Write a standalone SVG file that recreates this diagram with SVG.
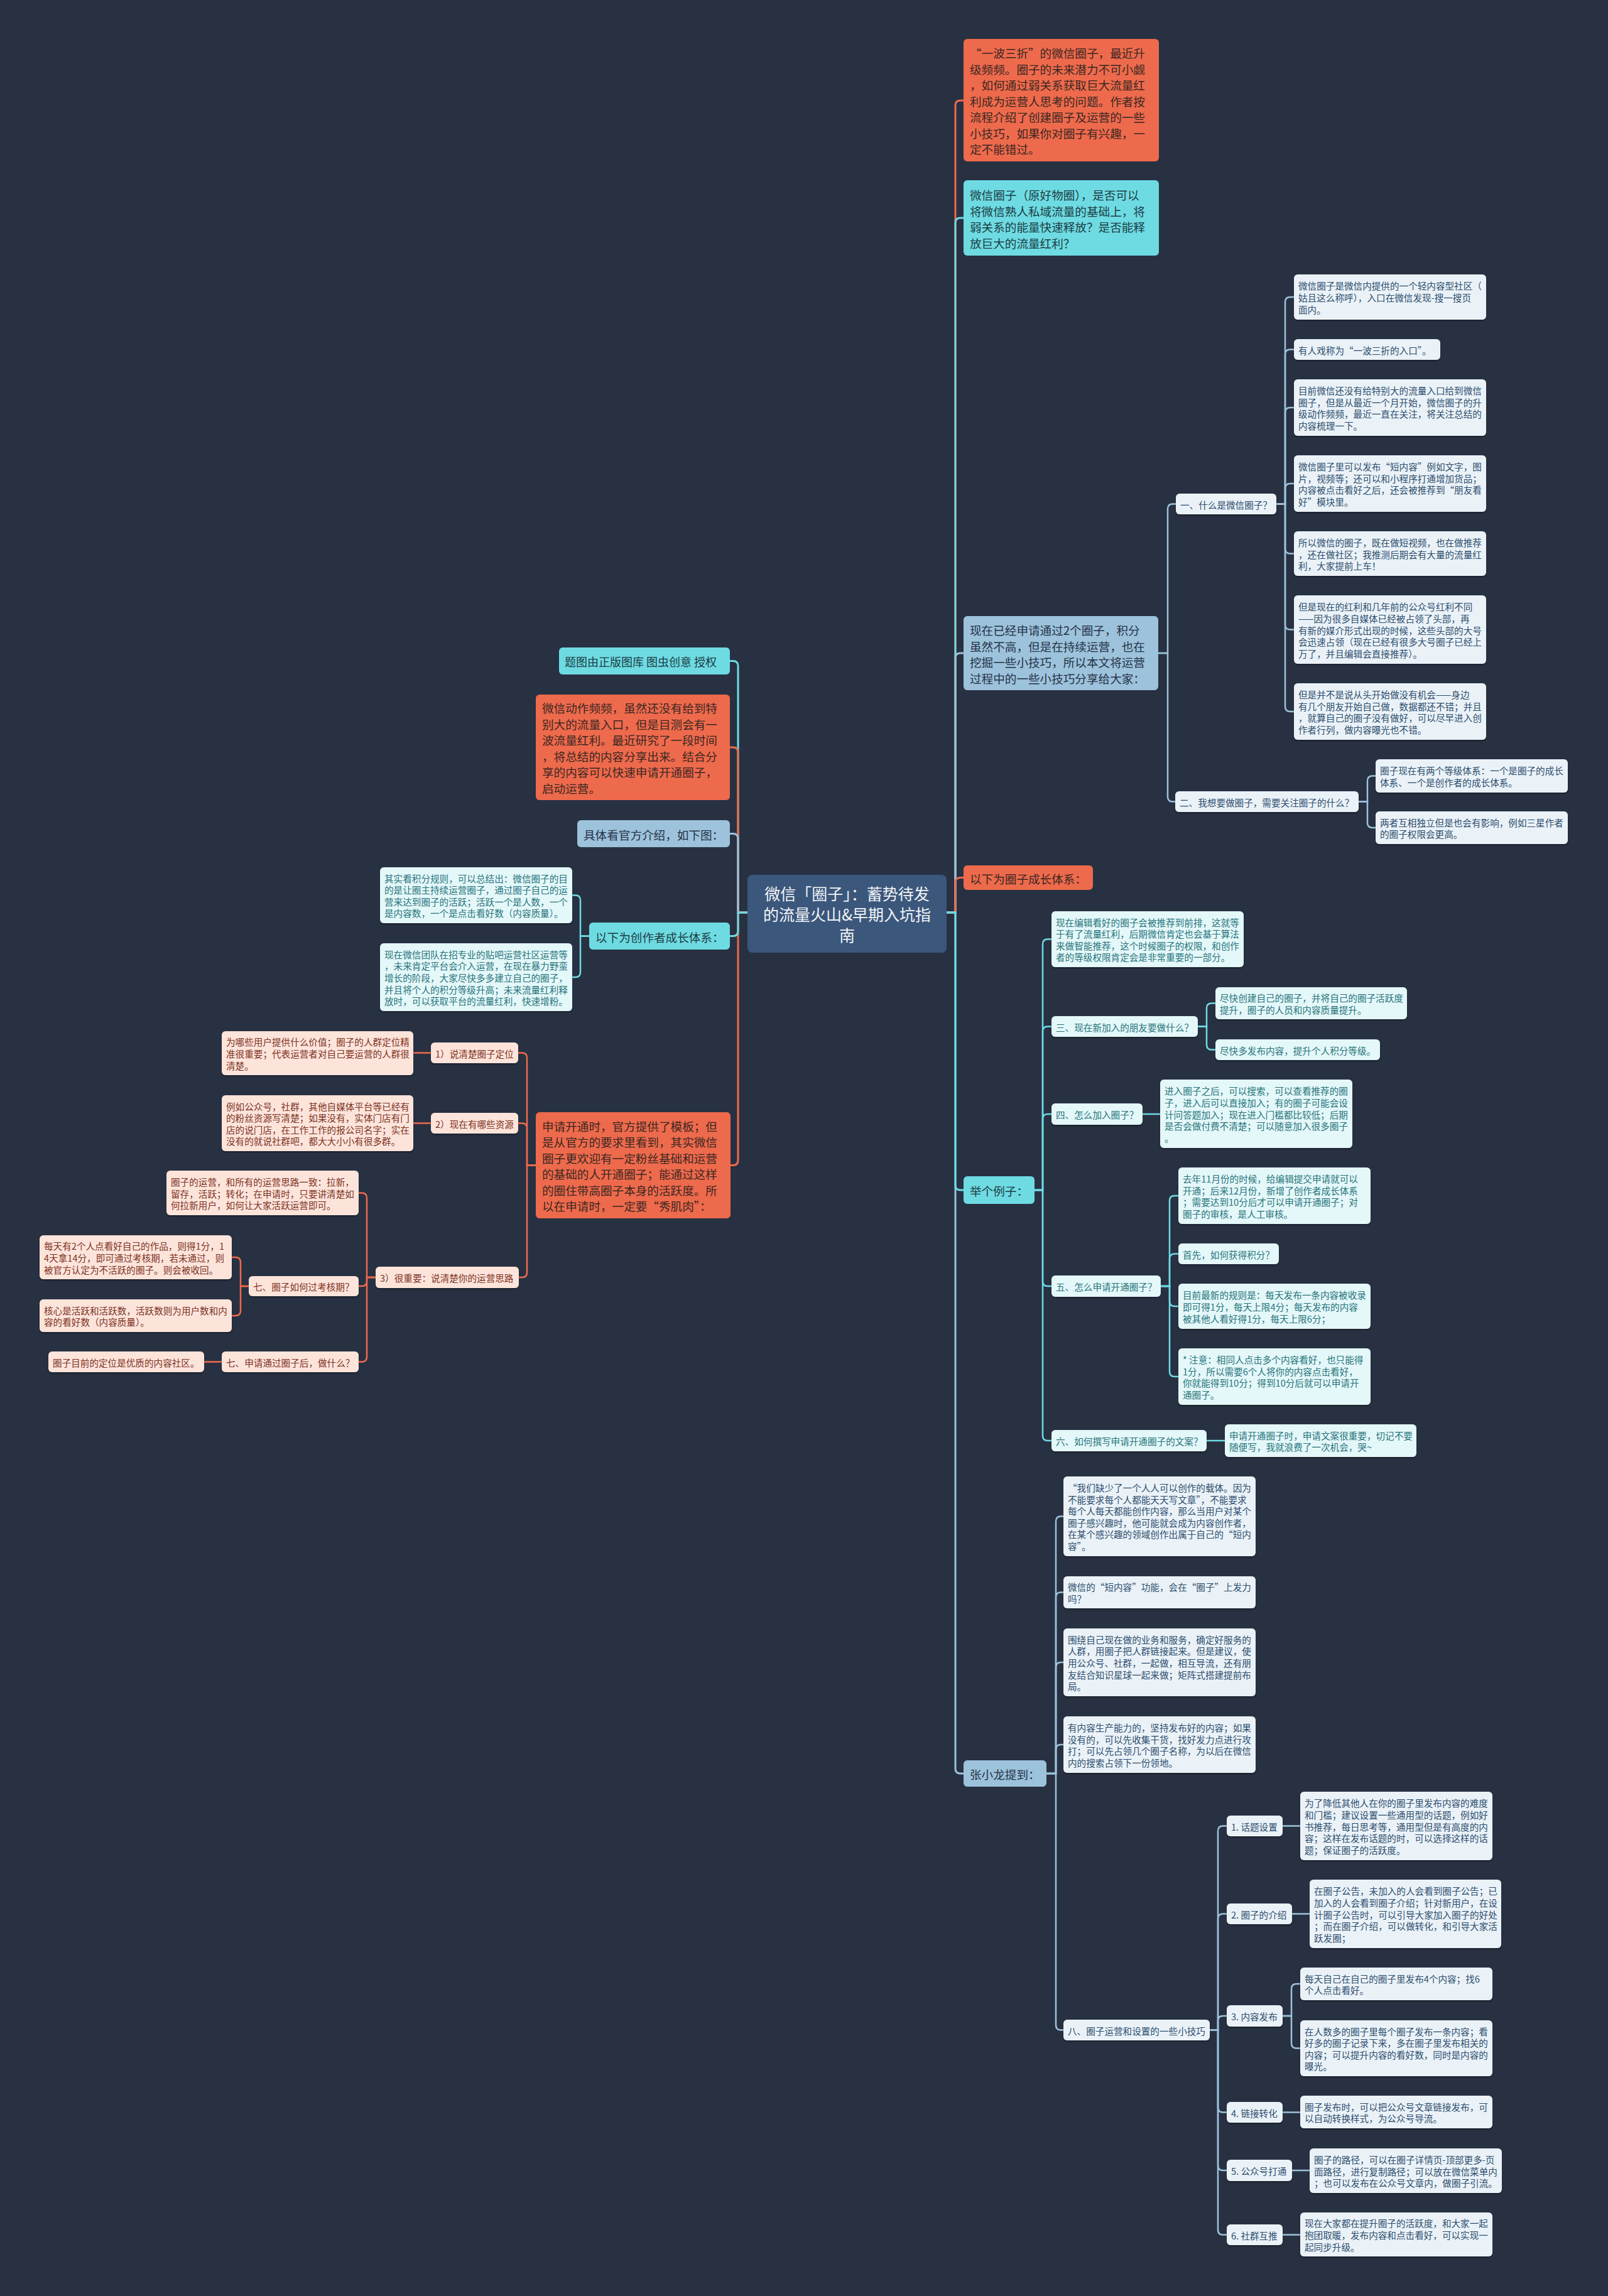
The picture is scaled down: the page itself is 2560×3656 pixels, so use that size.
<svg xmlns="http://www.w3.org/2000/svg" width="2560" height="3656" viewBox="0 0 2560 3656">
<defs>
<style>
text{font-family:"Noto Sans CJK SC","Noto Sans",sans-serif;dominant-baseline:central}
.tb{font-size:18.6px}.ts{font-size:14.6px}.tm{font-size:25px}
.no{fill:#ee6a4c}.nc{fill:#6edbe3}.nb{fill:#9dc2db}.nm{fill:#3b577c}
.lb{fill:#eaf2f8}.lc{fill:#e4f7f9}.lp{fill:#fde4db}
.co{fill:#3a2722}.cc{fill:#1c3c42}.cb{fill:#233247}.cm{fill:#f2f4f7}
.xb{fill:#2d4d6c}.xc{fill:#26747a}.xp{fill:#7c3222}
.e{fill:none;stroke-width:3}.es{fill:none;stroke-width:2.5}
.eo{stroke:#ee6a4c}.ec{stroke:#6edbe3}.eb{stroke:#9dc2db}
.lf{filter:url(#sh)}
</style>
<filter id="sh" x="-5%" y="-10%" width="110%" height="130%"><feDropShadow dx="0" dy="2" stdDeviation="1.2" flood-color="#000" flood-opacity="0.35"/></filter>
</defs>
<rect x="0" y="0" width="2560" height="3656" fill="#283142"/>

<g id="connectors">
<path class="e eo" d="M1507 1453 H1521 V168 Q1521 160 1529 160 H1534"/>
<path class="e ec" d="M1507 1453 H1521 V355 Q1521 347 1529 347 H1534"/>
<path class="e eb" d="M1507 1453 H1521 V1048 Q1521 1040 1529 1040 H1534"/>
<path class="e eo" d="M1507 1453 H1521 V1405.5 Q1521 1397.5 1529 1397.5 H1534"/>
<path class="e eb" d="M1507 1453 H1521 V2816 Q1521 2824 1529 2824 H1534"/>
<path class="e ec" d="M1507 1453 H1521 V1887 Q1521 1895 1529 1895 H1534"/>
<path class="e ec" d="M1190 1453 H1175 V1060.5 Q1175 1052.5 1167 1052.5 H1162"/>
<path class="e eo" d="M1190 1453 H1175 V1198 Q1175 1190 1167 1190 H1162"/>
<path class="e eb" d="M1190 1453 H1175 V1335.5 Q1175 1327.5 1167 1327.5 H1162"/>
<path class="e eo" d="M1190 1453 H1175 V1847.5 Q1175 1855.5 1167 1855.5 H1163"/>
<path class="e ec" d="M1190 1453 H1175 V1482.5 Q1175 1490.5 1167 1490.5 H1162"/>

<path class="es eb" d="M1844 1040 H1859 V810.5 Q1859 802.5 1867 802.5 H1872"/>
<path class="es eb" d="M1844 1040 H1859 V1268.5 Q1859 1276.5 1867 1276.5 H1871"/>
<path class="es eb" d="M2032 802.5 H2046 V481 Q2046 473 2054 473 H2060"/>
<path class="es eb" d="M2032 802.5 H2046 V564.5 Q2046 556.5 2054 556.5 H2060"/>
<path class="es eb" d="M2032 802.5 H2046 V657 Q2046 649 2054 649 H2060"/>
<path class="es eb" d="M2032 802.5 H2046 V778 Q2046 770 2054 770 H2060"/>
<path class="es eb" d="M2032 802.5 H2046 V873.5 Q2046 881.5 2054 881.5 H2060"/>
<path class="es eb" d="M2032 802.5 H2046 V994.5 Q2046 1002.5 2054 1002.5 H2060"/>
<path class="es eb" d="M2032 802.5 H2046 V1125 Q2046 1133 2054 1133 H2060"/>
<path class="es eb" d="M2163 1276.5 H2177 V1243.5 Q2177 1235.5 2185 1235.5 H2190"/>
<path class="es eb" d="M2163 1276.5 H2177 V1310 Q2177 1318 2185 1318 H2190"/>

<path class="es ec" d="M1647 1895 H1660 V1503.5 Q1660 1495.5 1668 1495.5 H1674"/>
<path class="es ec" d="M1647 1895 H1660 V1642.5 Q1660 1634.5 1668 1634.5 H1674"/>
<path class="es ec" d="M1647 1895 H1660 V1782 Q1660 1774 1668 1774 H1674"/>
<path class="es ec" d="M1647 1895 H1660 V2040 Q1660 2048 1668 2048 H1674"/>
<path class="es ec" d="M1647 1895 H1660 V2286 Q1660 2294 1668 2294 H1674"/>
<path class="es ec" d="M1907 1634.5 H1921 V1605.5 Q1921 1597.5 1929 1597.5 H1935"/>
<path class="es ec" d="M1907 1634.5 H1921 V1663.5 Q1921 1671.5 1929 1671.5 H1935"/>
<path class="es ec" d="M1819 1774 H1847"/>
<path class="es ec" d="M1848 2048 H1862 V1912 Q1862 1904 1870 1904 H1876"/>
<path class="es ec" d="M1848 2048 H1862 V2004.5 Q1862 1996.5 1870 1996.5 H1876"/>
<path class="es ec" d="M1848 2048 H1862 V2072 Q1862 2080 1870 2080 H1876"/>
<path class="es ec" d="M1848 2048 H1862 V2184 Q1862 2192 1870 2192 H1876"/>
<path class="es ec" d="M1921 2294 H1950"/>

<path class="es eb" d="M1666 2824 H1681 V2422.5 Q1681 2414.5 1689 2414.5 H1693"/>
<path class="es eb" d="M1666 2824 H1681 V2543.5 Q1681 2535.5 1689 2535.5 H1693"/>
<path class="es eb" d="M1666 2824 H1681 V2655 Q1681 2647 1689 2647 H1693"/>
<path class="es eb" d="M1666 2824 H1681 V2786 Q1681 2778 1689 2778 H1693"/>
<path class="es eb" d="M1666 2824 H1681 V3224.5 Q1681 3232.5 1689 3232.5 H1693"/>
<path class="es eb" d="M1926 3232.5 H1939 V2915.5 Q1939 2907.5 1947 2907.5 H1953"/>
<path class="es eb" d="M1926 3232.5 H1939 V3055.5 Q1939 3047.5 1947 3047.5 H1953"/>
<path class="es eb" d="M1926 3232.5 H1939 V3218 Q1939 3210 1947 3210 H1953"/>
<path class="es eb" d="M1926 3232.5 H1939 V3355.5 Q1939 3363.5 1947 3363.5 H1953"/>
<path class="es eb" d="M1926 3232.5 H1939 V3448 Q1939 3456 1947 3456 H1953"/>
<path class="es eb" d="M1926 3232.5 H1939 V3550.5 Q1939 3558.5 1947 3558.5 H1953"/>
<path class="es eb" d="M2042 2907.5 H2070"/>
<path class="es eb" d="M2057 3047.5 H2085"/>
<path class="es eb" d="M2042 3210 H2056 V3167 Q2056 3159 2064 3159 H2070"/>
<path class="es eb" d="M2042 3210 H2056 V3253.5 Q2056 3261.5 2064 3261.5 H2070"/>
<path class="es eb" d="M2042 3363.5 H2070"/>
<path class="es eb" d="M2057 3456 H2085"/>
<path class="es eb" d="M2042 3558.5 H2070"/>

<path class="es ec" d="M938 1490.5 H924 V1433.5 Q924 1425.5 916 1425.5 H911"/>
<path class="es ec" d="M938 1490.5 H924 V1548 Q924 1556 916 1556 H911"/>
<path class="es eo" d="M853 1855.5 H839 V1684.5 Q839 1676.5 831 1676.5 H825"/>
<path class="es eo" d="M853 1855.5 H839 V1796.5 Q839 1788.5 831 1788.5 H825"/>
<path class="es eo" d="M853 1855.5 H839 V2026 Q839 2034 831 2034 H826"/>
<path class="es eo" d="M686 1676.5 H658"/>
<path class="es eo" d="M686 1788.5 H658"/>
<path class="es eo" d="M598 2034 H584 V1907.5 Q584 1899.5 576 1899.5 H571"/>
<path class="es eo" d="M598 2034 H584 V2040 Q584 2048 576 2048 H571"/>
<path class="es eo" d="M598 2034 H584 V2160.5 Q584 2168.5 576 2168.5 H571"/>
<path class="es eo" d="M396 2048 H383 V2010 Q383 2002 375 2002 H369"/>
<path class="es eo" d="M396 2048 H383 V2087 Q383 2095 375 2095 H369"/>
<path class="es eo" d="M353 2168.5 H325"/>
</g>

<g id="n-center"><rect class="nm" x="1190" y="1393" width="317" height="124" rx="8"/>
<text class="tm cm" text-anchor="middle"><tspan x="1348.5" y="1422">微信「圈子」：蓄势待发</tspan><tspan x="1348.5" y="1455">的流量火山&amp;早期入坑指</tspan><tspan x="1348.5" y="1488">南</tspan></text></g>

<g id="n-r1"><rect class="no" x="1534" y="62" width="311" height="195" rx="6"/>
<text class="tb co"><tspan x="1544" y="83">“一波三折”的微信圈子，最近升</tspan><tspan x="1544" y="108.5">级频频。圈子的未来潜力不可小觑</tspan><tspan x="1544" y="134">，如何通过弱关系获取巨大流量红</tspan><tspan x="1544" y="159.5">利成为运营人思考的问题。作者按</tspan><tspan x="1544" y="185">流程介绍了创建圈子及运营的一些</tspan><tspan x="1544" y="210.5">小技巧，如果你对圈子有兴趣，一</tspan><tspan x="1544" y="236">定不能错过。</tspan></text></g>

<g id="n-r2"><rect class="nc" x="1534" y="287" width="311" height="120" rx="6"/>
<text class="tb cc"><tspan x="1544" y="309">微信圈子（原好物圈），是否可以</tspan><tspan x="1544" y="334.5">将微信熟人私域流量的基础上，将</tspan><tspan x="1544" y="360">弱关系的能量快速释放？是否能释</tspan><tspan x="1544" y="385.5">放巨大的流量红利？</tspan></text></g>

<g id="n-r3"><rect class="nb" x="1534" y="981" width="310" height="118" rx="6"/>
<text class="tb cb"><tspan x="1544" y="1002">现在已经申请通过2个圈子，积分</tspan><tspan x="1544" y="1027.5">虽然不高，但是在持续运营，也在</tspan><tspan x="1544" y="1053">挖掘一些小技巧，所以本文将运营</tspan><tspan x="1544" y="1078.5">过程中的一些小技巧分享给大家：</tspan></text></g>

<g id="n-r3-1"><rect class="lb lf" x="1872" y="786" width="160" height="33" rx="6"/>
<text class="ts xb"><tspan x="1879" y="802.5">一、什么是微信圈子？</tspan></text></g>
<g id="n-r3-1-1"><rect class="lb lf" x="2060" y="437" width="306" height="72" rx="6"/>
<text class="ts xb"><tspan x="2067" y="454.4">微信圈子是微信内提供的一个轻内容型社区（</tspan><tspan x="2067" y="473">姑且这么称呼），入口在微信发现-搜一搜页</tspan><tspan x="2067" y="491.6">面内。</tspan></text></g>
<g id="n-r3-1-2"><rect class="lb lf" x="2060" y="540" width="233" height="33" rx="6"/>
<text class="ts xb"><tspan x="2067" y="556.5">有人戏称为“一波三折的入口”。</tspan></text></g>
<g id="n-r3-1-3"><rect class="lb lf" x="2060" y="604" width="306" height="90" rx="6"/>
<text class="ts xb"><tspan x="2067" y="621.1">目前微信还没有给特别大的流量入口给到微信</tspan><tspan x="2067" y="639.7">圈子，但是从最近一个月开始，微信圈子的升</tspan><tspan x="2067" y="658.3">级动作频频，最近一直在关注，将关注总结的</tspan><tspan x="2067" y="676.9">内容梳理一下。</tspan></text></g>
<g id="n-r3-1-4"><rect class="lb lf" x="2060" y="725" width="306" height="90" rx="6"/>
<text class="ts xb"><tspan x="2067" y="742.1">微信圈子里可以发布“短内容”例如文字，图</tspan><tspan x="2067" y="760.7">片，视频等；还可以和小程序打通增加货品；</tspan><tspan x="2067" y="779.3">内容被点击看好之后，还会被推荐到“朋友看</tspan><tspan x="2067" y="797.9">好”模块里。</tspan></text></g>
<g id="n-r3-1-5"><rect class="lb lf" x="2060" y="846" width="306" height="71" rx="6"/>
<text class="ts xb"><tspan x="2067" y="862.9">所以微信的圈子，既在做短视频，也在做推荐</tspan><tspan x="2067" y="881.5">，还在做社区；我推测后期会有大量的流量红</tspan><tspan x="2067" y="900.1">利，大家提前上车！</tspan></text></g>
<g id="n-r3-1-6"><rect class="lb lf" x="2060" y="948" width="306" height="109" rx="6"/>
<text class="ts xb"><tspan x="2067" y="965.3">但是现在的红利和几年前的公众号红利不同</tspan><tspan x="2067" y="983.9">——因为很多自媒体已经被占领了头部，再</tspan><tspan x="2067" y="1002.5">有新的媒介形式出现的时候，这些头部的大号</tspan><tspan x="2067" y="1021.1">会迅速占领（现在已经有很多大号圈子已经上</tspan><tspan x="2067" y="1039.7">万了，并且编辑会直接推荐）。</tspan></text></g>
<g id="n-r3-1-7"><rect class="lb lf" x="2060" y="1088" width="306" height="90" rx="6"/>
<text class="ts xb"><tspan x="2067" y="1105.1">但是并不是说从头开始做没有机会——身边</tspan><tspan x="2067" y="1123.7">有几个朋友开始自己做，数据都还不错；并且</tspan><tspan x="2067" y="1142.3">，就算自己的圈子没有做好，可以尽早进入创</tspan><tspan x="2067" y="1160.9">作者行列，做内容曝光也不错。</tspan></text></g>

<g id="n-r3-2"><rect class="lb lf" x="1871" y="1260" width="292" height="33" rx="6"/>
<text class="ts xb"><tspan x="1878" y="1276.5">二、我想要做圈子，需要关注圈子的什么？</tspan></text></g>
<g id="n-r3-2-1"><rect class="lb lf" x="2190" y="1209" width="306" height="53" rx="6"/>
<text class="ts xb"><tspan x="2197" y="1226.2">圈子现在有两个等级体系：一个是圈子的成长</tspan><tspan x="2197" y="1244.8">体系、一个是创作者的成长体系。</tspan></text></g>
<g id="n-r3-2-2"><rect class="lb lf" x="2190" y="1292" width="306" height="52" rx="6"/>
<text class="ts xb"><tspan x="2197" y="1308.7">两者互相独立但是也会有影响，例如三星作者</tspan><tspan x="2197" y="1327.3">的圈子权限会更高。</tspan></text></g>

<g id="n-r4"><rect class="no" x="1534" y="1378" width="206" height="39" rx="6"/>
<text class="tb co"><tspan x="1544" y="1397.5">以下为圈子成长体系：</tspan></text></g>

<g id="n-r5"><rect class="nc" x="1534" y="1873" width="113" height="44" rx="6"/>
<text class="tb cc"><tspan x="1544" y="1895">举个例子：</tspan></text></g>
<g id="n-r5-1"><rect class="lc lf" x="1674" y="1451" width="306" height="89" rx="6"/>
<text class="ts xc"><tspan x="1681" y="1467.6">现在编辑看好的圈子会被推荐到前排，这就等</tspan><tspan x="1681" y="1486.2">于有了流量红利，后期微信肯定也会基于算法</tspan><tspan x="1681" y="1504.8">来做智能推荐，这个时候圈子的权限，和创作</tspan><tspan x="1681" y="1523.4">者的等级权限肯定会是非常重要的一部分。</tspan></text></g>
<g id="n-r5-2"><rect class="lc lf" x="1674" y="1618" width="233" height="33" rx="6"/>
<text class="ts xc"><tspan x="1681" y="1634.5">三、现在新加入的朋友要做什么？</tspan></text></g>
<g id="n-r5-2-1"><rect class="lc lf" x="1935" y="1572" width="305" height="51" rx="6"/>
<text class="ts xc"><tspan x="1942" y="1588.2">尽快创建自己的圈子，并将自己的圈子活跃度</tspan><tspan x="1942" y="1606.8">提升，圈子的人员和内容质量提升。</tspan></text></g>
<g id="n-r5-2-2"><rect class="lc lf" x="1935" y="1655" width="262" height="33" rx="6"/>
<text class="ts xc"><tspan x="1942" y="1671.5">尽快多发布内容，提升个人积分等级。</tspan></text></g>
<g id="n-r5-3"><rect class="lc lf" x="1674" y="1757" width="145" height="34" rx="6"/>
<text class="ts xc"><tspan x="1681" y="1774">四、怎么加入圈子？</tspan></text></g>
<g id="n-r5-3-1"><rect class="lc lf" x="1847" y="1719" width="306" height="109" rx="6"/>
<text class="ts xc"><tspan x="1854" y="1736.3">进入圈子之后，可以搜索，可以查看推荐的圈</tspan><tspan x="1854" y="1754.9">子，进入后可以直接加入；有的圈子可能会设</tspan><tspan x="1854" y="1773.5">计问答题加入；现在进入门槛都比较低；后期</tspan><tspan x="1854" y="1792.1">是否会做付费不清楚；可以随意加入很多圈子</tspan><tspan x="1854" y="1810.7">。</tspan></text></g>
<g id="n-r5-4"><rect class="lc lf" x="1674" y="2031" width="174" height="34" rx="6"/>
<text class="ts xc"><tspan x="1681" y="2048">五、怎么申请开通圈子？</tspan></text></g>
<g id="n-r5-4-1"><rect class="lc lf" x="1876" y="1859" width="306" height="90" rx="6"/>
<text class="ts xc"><tspan x="1883" y="1876.1">去年11月份的时候，给编辑提交申请就可以</tspan><tspan x="1883" y="1894.7">开通；后来12月份，新增了创作者成长体系</tspan><tspan x="1883" y="1913.3">；需要达到10分后才可以申请开通圈子；对</tspan><tspan x="1883" y="1931.9">圈子的审核，是人工审核。</tspan></text></g>
<g id="n-r5-4-2"><rect class="lc lf" x="1876" y="1980" width="160" height="33" rx="6"/>
<text class="ts xc"><tspan x="1883" y="1996.5">首先，如何获得积分？</tspan></text></g>
<g id="n-r5-4-3"><rect class="lc lf" x="1876" y="2044" width="306" height="72" rx="6"/>
<text class="ts xc"><tspan x="1883" y="2061.4">目前最新的规则是：每天发布一条内容被收录</tspan><tspan x="1883" y="2080">即可得1分，每天上限4分；每天发布的内容</tspan><tspan x="1883" y="2098.6">被其他人看好得1分，每天上限6分；</tspan></text></g>
<g id="n-r5-4-4"><rect class="lc lf" x="1876" y="2147" width="306" height="90" rx="6"/>
<text class="ts xc"><tspan x="1883" y="2164.1">* 注意：相同人点击多个内容看好，也只能得</tspan><tspan x="1883" y="2182.7">1分，所以需要6个人将你的内容点击看好，</tspan><tspan x="1883" y="2201.3">你就能得到10分；得到10分后就可以申请开</tspan><tspan x="1883" y="2219.9">通圈子。</tspan></text></g>
<g id="n-r5-5"><rect class="lc lf" x="1674" y="2277" width="247" height="34" rx="6"/>
<text class="ts xc"><tspan x="1681" y="2294">六、如何撰写申请开通圈子的文案？</tspan></text></g>
<g id="n-r5-5-1"><rect class="lc lf" x="1950" y="2268" width="305" height="52" rx="6"/>
<text class="ts xc"><tspan x="1957" y="2284.7">申请开通圈子时，申请文案很重要，切记不要</tspan><tspan x="1957" y="2303.3">随便写，我就浪费了一次机会，哭~</tspan></text></g>

<g id="n-r6"><rect class="nb" x="1534" y="2803" width="132" height="42" rx="6"/>
<text class="tb cb"><tspan x="1544" y="2824">张小龙提到：</tspan></text></g>
<g id="n-r6-1"><rect class="lb lf" x="1693" y="2351" width="306" height="127" rx="6"/>
<text class="ts xb"><tspan x="1700" y="2368">“我们缺少了一个人人可以创作的载体。因为</tspan><tspan x="1700" y="2386.6">不能要求每个人都能天天写文章”，不能要求</tspan><tspan x="1700" y="2405.2">每个人每天都能创作内容，那么当用户对某个</tspan><tspan x="1700" y="2423.8">圈子感兴趣时，他可能就会成为内容创作者，</tspan><tspan x="1700" y="2442.4">在某个感兴趣的领域创作出属于自己的“短内</tspan><tspan x="1700" y="2461">容”。</tspan></text></g>
<g id="n-r6-2"><rect class="lb lf" x="1693" y="2510" width="306" height="51" rx="6"/>
<text class="ts xb"><tspan x="1700" y="2526.2">微信的“短内容”功能，会在“圈子”上发力</tspan><tspan x="1700" y="2544.8">吗？</tspan></text></g>
<g id="n-r6-3"><rect class="lb lf" x="1693" y="2593" width="306" height="108" rx="6"/>
<text class="ts xb"><tspan x="1700" y="2609.8">围绕自己现在做的业务和服务，确定好服务的</tspan><tspan x="1700" y="2628.4">人群，用圈子把人群链接起来。但是建议，使</tspan><tspan x="1700" y="2647">用公众号、社群，一起做，相互导流，还有朋</tspan><tspan x="1700" y="2665.6">友结合知识星球一起来做；矩阵式搭建提前布</tspan><tspan x="1700" y="2684.2">局。</tspan></text></g>
<g id="n-r6-4"><rect class="lb lf" x="1693" y="2733" width="306" height="90" rx="6"/>
<text class="ts xb"><tspan x="1700" y="2750.1">有内容生产能力的，坚持发布好的内容；如果</tspan><tspan x="1700" y="2768.7">没有的，可以先收集干货，找好发力点进行攻</tspan><tspan x="1700" y="2787.3">打；可以先占领几个圈子名称，为以后在微信</tspan><tspan x="1700" y="2805.9">内的搜索占领下一份领地。</tspan></text></g>
<g id="n-r6-5"><rect class="lb lf" x="1693" y="3216" width="233" height="33" rx="6"/>
<text class="ts xb"><tspan x="1700" y="3232.5">八、圈子运营和设置的一些小技巧</tspan></text></g>
<g id="n-r6-5-1"><rect class="lb lf" x="1953" y="2891" width="89" height="33" rx="6"/>
<text class="ts xb"><tspan x="1960" y="2907.5">1. 话题设置</tspan></text></g>
<g id="n-r6-5-1a"><rect class="lb lf" x="2070" y="2853" width="306" height="109" rx="6"/>
<text class="ts xb"><tspan x="2077" y="2870.3">为了降低其他人在你的圈子里发布内容的难度</tspan><tspan x="2077" y="2888.9">和门槛；建议设置一些通用型的话题，例如好</tspan><tspan x="2077" y="2907.5">书推荐，每日思考等，通用型但是有高度的内</tspan><tspan x="2077" y="2926.1">容；这样在发布话题的时，可以选择这样的话</tspan><tspan x="2077" y="2944.7">题；保证圈子的活跃度。</tspan></text></g>
<g id="n-r6-5-2"><rect class="lb lf" x="1953" y="3031" width="104" height="33" rx="6"/>
<text class="ts xb"><tspan x="1960" y="3047.5">2. 圈子的介绍</tspan></text></g>
<g id="n-r6-5-2a"><rect class="lb lf" x="2085" y="2993" width="305" height="109" rx="6"/>
<text class="ts xb"><tspan x="2092" y="3010.3">在圈子公告，未加入的人会看到圈子公告；已</tspan><tspan x="2092" y="3028.9">加入的人会看到圈子介绍；针对新用户，在设</tspan><tspan x="2092" y="3047.5">计圈子公告时，可以引导大家加入圈子的好处</tspan><tspan x="2092" y="3066.1">；而在圈子介绍，可以做转化，和引导大家活</tspan><tspan x="2092" y="3084.7">跃发圈；</tspan></text></g>
<g id="n-r6-5-3"><rect class="lb lf" x="1953" y="3193" width="89" height="34" rx="6"/>
<text class="ts xb"><tspan x="1960" y="3210">3. 内容发布</tspan></text></g>
<g id="n-r6-5-3a"><rect class="lb lf" x="2070" y="3133" width="306" height="52" rx="6"/>
<text class="ts xb"><tspan x="2077" y="3149.7">每天自己在自己的圈子里发布4个内容；找6</tspan><tspan x="2077" y="3168.3">个人点击看好。</tspan></text></g>
<g id="n-r6-5-3b"><rect class="lb lf" x="2070" y="3217" width="306" height="89" rx="6"/>
<text class="ts xb"><tspan x="2077" y="3233.6">在人数多的圈子里每个圈子发布一条内容；看</tspan><tspan x="2077" y="3252.2">好多的圈子记录下来，多在圈子里发布相关的</tspan><tspan x="2077" y="3270.8">内容；可以提升内容的看好数，同时是内容的</tspan><tspan x="2077" y="3289.4">曝光。</tspan></text></g>
<g id="n-r6-5-4"><rect class="lb lf" x="1953" y="3347" width="89" height="33" rx="6"/>
<text class="ts xb"><tspan x="1960" y="3363.5">4. 链接转化</tspan></text></g>
<g id="n-r6-5-4a"><rect class="lb lf" x="2070" y="3337" width="306" height="52" rx="6"/>
<text class="ts xb"><tspan x="2077" y="3353.7">圈子发布时，可以把公众号文章链接发布，可</tspan><tspan x="2077" y="3372.3">以自动转换样式，为公众号导流。</tspan></text></g>
<g id="n-r6-5-5"><rect class="lb lf" x="1953" y="3439" width="104" height="34" rx="6"/>
<text class="ts xb"><tspan x="1960" y="3456">5. 公众号打通</tspan></text></g>
<g id="n-r6-5-5a"><rect class="lb lf" x="2085" y="3421" width="306" height="71" rx="6"/>
<text class="ts xb"><tspan x="2092" y="3437.9">圈子的路径，可以在圈子详情页-顶部更多-页</tspan><tspan x="2092" y="3456.5">面路径，进行复制路径；可以放在微信菜单内</tspan><tspan x="2092" y="3475.1">；也可以发布在公众号文章内，做圈子引流。</tspan></text></g>
<g id="n-r6-5-6"><rect class="lb lf" x="1953" y="3542" width="89" height="33" rx="6"/>
<text class="ts xb"><tspan x="1960" y="3558.5">6. 社群互推</tspan></text></g>
<g id="n-r6-5-6a"><rect class="lb lf" x="2070" y="3523" width="306" height="70" rx="6"/>
<text class="ts xb"><tspan x="2077" y="3539.4">现在大家都在提升圈子的活跃度，和大家一起</tspan><tspan x="2077" y="3558">抱团取暖，发布内容和点击看好，可以实现一</tspan><tspan x="2077" y="3576.6">起同步升级。</tspan></text></g>

<g id="n-l1"><rect class="nc" x="890" y="1031" width="272" height="43" rx="6"/>
<text class="tb cc" style="font-size:18px"><tspan x="899" y="1052.5">题图由正版图库 图虫创意 授权</tspan></text></g>
<g id="n-l2"><rect class="no" x="853" y="1106" width="309" height="168" rx="6"/>
<text class="tb co"><tspan x="863" y="1126.3">微信动作频频，虽然还没有给到特</tspan><tspan x="863" y="1151.8">别大的流量入口，但是目测会有一</tspan><tspan x="863" y="1177.3">波流量红利。最近研究了一段时间</tspan><tspan x="863" y="1202.8">，将总结的内容分享出来。结合分</tspan><tspan x="863" y="1228.3">享的内容可以快速申请开通圈子，</tspan><tspan x="863" y="1253.8">启动运营。</tspan></text></g>
<g id="n-l3"><rect class="nb" x="919" y="1306" width="243" height="43" rx="6"/>
<text class="tb cb"><tspan x="929" y="1327.5">具体看官方介绍，如下图：</tspan></text></g>
<g id="n-l4"><rect class="nc" x="938" y="1469" width="224" height="43" rx="6"/>
<text class="tb cc"><tspan x="948" y="1490.5">以下为创作者成长体系：</tspan></text></g>
<g id="n-l4-1"><rect class="lc lf" x="605" y="1381" width="306" height="89" rx="6"/>
<text class="ts xc"><tspan x="612" y="1397.6">其实看积分规则，可以总结出：微信圈子的目</tspan><tspan x="612" y="1416.2">的是让圈主持续运营圈子，通过圈子自己的运</tspan><tspan x="612" y="1434.8">营来达到圈子的活跃；活跃一个是人数，一个</tspan><tspan x="612" y="1453.4">是内容数，一个是点击看好数（内容质量）。</tspan></text></g>
<g id="n-l4-2"><rect class="lc lf" x="605" y="1502" width="306" height="108" rx="6"/>
<text class="ts xc"><tspan x="612" y="1518.8">现在微信团队在招专业的贴吧运营社区运营等</tspan><tspan x="612" y="1537.4">，未来肯定平台会介入运营，在现在暴力野蛮</tspan><tspan x="612" y="1556">增长的阶段，大家尽快多多建立自己的圈子，</tspan><tspan x="612" y="1574.6">并且将个人的积分等级升高；未来流量红利释</tspan><tspan x="612" y="1593.2">放时，可以获取平台的流量红利，快速增粉。</tspan></text></g>

<g id="n-l5"><rect class="no" x="853" y="1771" width="310" height="169" rx="6"/>
<text class="tb co"><tspan x="863" y="1791.8">申请开通时，官方提供了模板；但</tspan><tspan x="863" y="1817.3">是从官方的要求里看到，其实微信</tspan><tspan x="863" y="1842.8">圈子更欢迎有一定粉丝基础和运营</tspan><tspan x="863" y="1868.3">的基础的人开通圈子；能通过这样</tspan><tspan x="863" y="1893.8">的圈住带高圈子本身的活跃度。所</tspan><tspan x="863" y="1919.3">以在申请时，一定要“秀肌肉”：</tspan></text></g>
<g id="n-l5-1"><rect class="lp lf" x="686" y="1660" width="139" height="33" rx="6"/>
<text class="ts xp"><tspan x="693" y="1676.5">1）说清楚圈子定位</tspan></text></g>
<g id="n-l5-1a"><rect class="lp lf" x="353" y="1642" width="305" height="70" rx="6"/>
<text class="ts xp"><tspan x="360" y="1658.4">为哪些用户提供什么价值；圈子的人群定位精</tspan><tspan x="360" y="1677">准很重要；代表运营者对自己要运营的人群很</tspan><tspan x="360" y="1695.6">清楚。</tspan></text></g>
<g id="n-l5-2"><rect class="lp lf" x="686" y="1772" width="139" height="33" rx="6"/>
<text class="ts xp"><tspan x="693" y="1788.5">2）现在有哪些资源</tspan></text></g>
<g id="n-l5-2a"><rect class="lp lf" x="353" y="1744" width="305" height="89" rx="6"/>
<text class="ts xp"><tspan x="360" y="1760.6">例如公众号，社群，其他自媒体平台等已经有</tspan><tspan x="360" y="1779.2">的粉丝资源写清楚；如果没有，实体门店有门</tspan><tspan x="360" y="1797.8">店的说门店，在工作工作的报公司名字；实在</tspan><tspan x="360" y="1816.4">没有的就说社群吧，都大大小小有很多群。</tspan></text></g>
<g id="n-l5-3"><rect class="lp lf" x="598" y="2017" width="228" height="34" rx="6"/>
<text class="ts xp"><tspan x="605" y="2034">3）很重要：说清楚你的运营思路</tspan></text></g>
<g id="n-l5-3a"><rect class="lp lf" x="265" y="1864" width="306" height="71" rx="6"/>
<text class="ts xp"><tspan x="272" y="1880.9">圈子的运营，和所有的运营思路一致：拉新，</tspan><tspan x="272" y="1899.5">留存，活跃；转化；在申请时，只要讲清楚如</tspan><tspan x="272" y="1918.1">何拉新用户，如何让大家活跃运营即可。</tspan></text></g>
<g id="n-l5-3b"><rect class="lp lf" x="396" y="2032" width="175" height="32" rx="6"/>
<text class="ts xp"><tspan x="403" y="2048">七、圈子如何过考核期？</tspan></text></g>
<g id="n-l5-3b1"><rect class="lp lf" x="63" y="1967" width="306" height="70" rx="6"/>
<text class="ts xp"><tspan x="70" y="1983.4">每天有2个人点看好自己的作品，则得1分，1</tspan><tspan x="70" y="2002">4天拿14分，即可通过考核期，若未通过，则</tspan><tspan x="70" y="2020.6">被官方认定为不活跃的圈子。则会被收回。</tspan></text></g>
<g id="n-l5-3b2"><rect class="lp lf" x="63" y="2069" width="306" height="52" rx="6"/>
<text class="ts xp"><tspan x="70" y="2085.7">核心是活跃和活跃数，活跃数则为用户数和内</tspan><tspan x="70" y="2104.3">容的看好数（内容质量）。</tspan></text></g>
<g id="n-l5-3c"><rect class="lp lf" x="353" y="2152" width="218" height="33" rx="6"/>
<text class="ts xp"><tspan x="360" y="2168.5">七、申请通过圈子后，做什么？</tspan></text></g>
<g id="n-l5-3c1"><rect class="lp lf" x="77" y="2152" width="248" height="33" rx="6"/>
<text class="ts xp"><tspan x="84" y="2168.5">圈子目前的定位是优质的内容社区。</tspan></text></g>
</svg>
